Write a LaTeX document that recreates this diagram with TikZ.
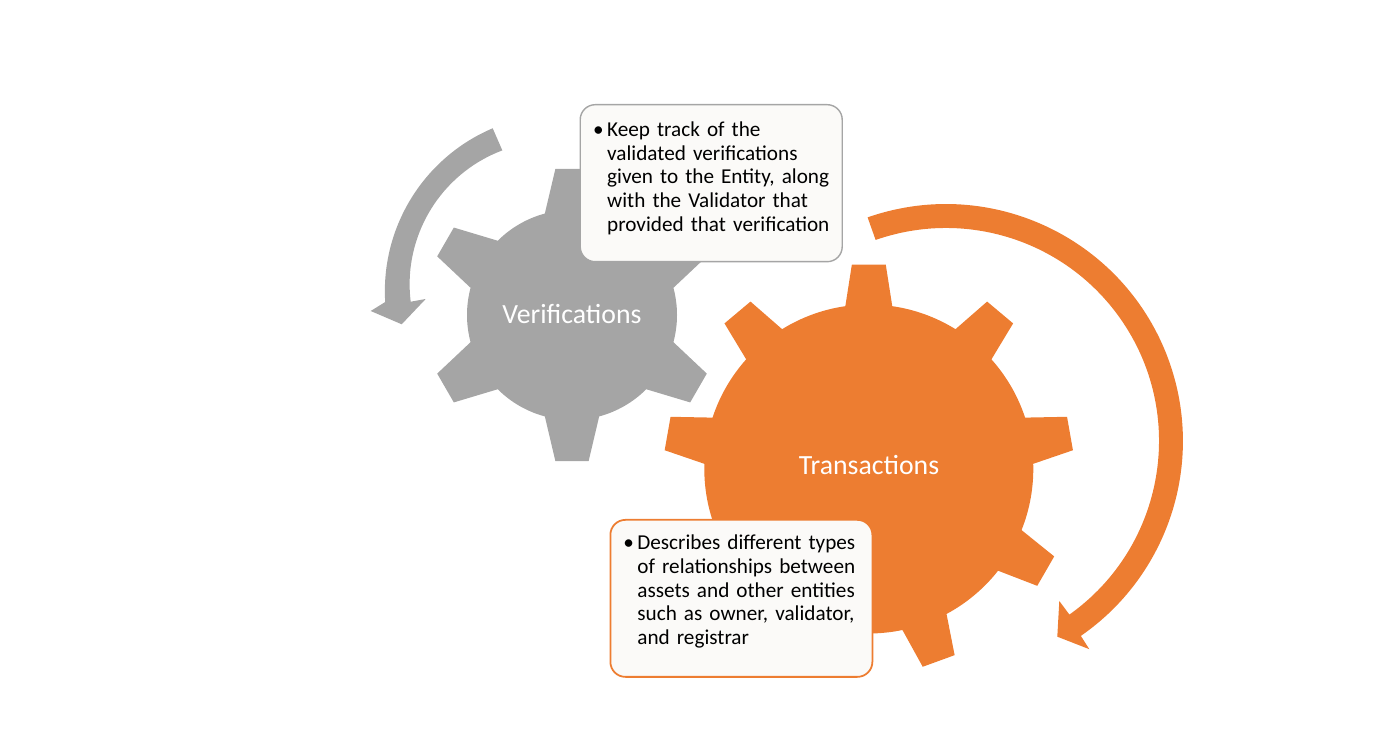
\documentclass[tikz,border=0pt]{standalone}
\usepackage{fontspec}
\setmainfont{Carlito}
\definecolor{gearGray}{HTML}{A5A5A5}
\definecolor{gearOrange}{HTML}{ED7D31}
\definecolor{boxFill}{HTML}{FBFAF8}
\tikzset{
    gearlabel/.style={text=white,font=\fontsize{7.9}{9}\selectfont},
    notebox/.style={fill=boxFill,line width=0.4pt,rounded corners=0.15cm,anchor=north west,
        minimum width=2.62cm,minimum height=1.57cm,text width=2.42cm,align=left,
        inner xsep=0.1cm,inner ysep=0.05cm,text=black,font=\fontsize{6.03}{6.75}\selectfont},
}
\newcommand{\noteitem}[2][1.23cm]{\makebox[0.17cm][l]{\hspace{0.03cm}\textbullet}\parbox[t][#1][t]{2.25cm}{#2}}
\begin{document}
\begin{tikzpicture}
    \useasboundingbox (0,0) rectangle (14,7.51);
    %% gray gear
    \begin{scope}[shift={(5.72,4.36)}]
        \fill[gearGray] (75:1.05) \foreach \a in {90,150,210,270,330,390}
            { -- ({\a-15}:1.05) -- ({\a-6.5}:1.47) -- ({\a+6.5}:1.47) -- ({\a+15}:1.05)
              arc[start angle=\a+15,end angle=\a+45,radius=1.05] } -- cycle;
    \end{scope}
    %% orange gear
    \begin{scope}[shift={(8.688,2.82)}]
        \fill[gearOrange] (81.8:1.645) \foreach \a in {90,130,170,210,250,290,330,370,410}
            { -- ({\a-8.2}:1.645) -- ({\a-4.75}:2.05) -- ({\a+4.75}:2.05) -- ({\a+8.2}:1.645)
              arc[start angle=\a+8.2,end angle=\a+31.8,radius=1.645] } -- cycle;
    \end{scope}
    %% gray arrow
    \fill[gearGray] (4.927,6.227) arc[start angle=113,end angle=183.5,radius=1.77]
        -- (3.707,4.40) -- (4.017,4.267) -- (4.257,4.52) -- (4.107,4.493)
        arc[start angle=187,end angle=110.6,radius=1.43] -- cycle;
    %% orange arrow
    \fill[gearOrange] (8.676,5.336) arc[start angle=109.3,end angle=-55.3,radius=2.37]
        -- (10.893,1.018) -- (10.573,1.143) -- (10.593,1.50) -- (10.694,1.364)
        arc[start angle=-54.6,end angle=109.3,radius=2.13] -- cycle;
    %% labels
    \node[gearlabel] (verifications) at (5.72,4.37) {Verifications};
    \node[gearlabel] (transactions) at (8.69,2.86) {Transactions};
    %% text boxes
    \node[notebox,draw=gearGray] (verifybox) at (5.795,6.47) {\noteitem{Keep track of the\\
        validated verifications\\ given to the Entity, along\\ with the Validator that\\ provided that verification}};
    \node[notebox,draw=gearOrange,line width=0.5pt] (transbox) at (6.095,2.32) {\noteitem[1.27cm]{Describes different types\\
        of relationships between\\ assets and other entities\\ such as owner, validator,\\ and registrar}};
\end{tikzpicture}
\end{document}
